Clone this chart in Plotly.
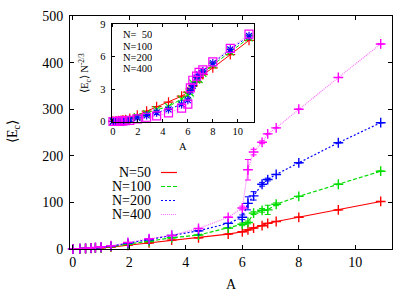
import plotly.graph_objects as go

# ---------------- data ----------------
A = [0, 0.25, 0.45, 0.65, 0.8, 1.0, 1.35, 1.95, 2.7, 3.5, 4.45, 5.5, 6.0, 6.2, 6.4, 6.7, 6.9, 7.2, 8.0, 9.4, 10.9]

E50 = [0, 0.5, 1, 1.5, 2, 2.5, 4, 8, 13, 19, 24, 32, 37, 41, 45, 50, 55, 59, 68, 84, 102]
E100 = [0, 0.6, 1.2, 1.8, 2.4, 3.2, 5, 10, 16, 24, 30, 45, 53, 57, 77, 83, 84, 96, 113, 139, 167]
E200 = [0, 0.7, 1.4, 2.1, 2.8, 3.8, 6, 12, 20, 29, 39, 55, 68, 98, 114, 139, 149, 160, 185, 228, 271]
E400 = [0, 0.8, 1.6, 2.4, 3.2, 4.4, 7, 14, 22, 29, 44, 68, 88, 170, 208, 229, 247, 260, 300, 368, 440]

ERR50 = [0] * 21
ERR100 = [0, 0, 0, 0, 0, 0, 0, 0, 0, 0, 0, 0, 3, 3, 3, 4, 10, 3, 0, 0, 0]
ERR200 = [0, 0, 0, 0, 0, 0, 0, 0, 0, 0, 0, 0, 5, 14, 9, 4, 3, 0, 0, 0, 0]
ERR400 = [0, 0, 0, 0, 0, 0, 0, 0, 0, 0, 0, 0, 4, 22, 6, 3, 0, 0, 0, 0, 0]

# inset: <E_c> N^(-2/3)
S50 = [0.05, 0.08, 0.1, 0.13, 0.16, 0.19, 0.3, 0.6, 0.98, 1.4, 1.8, 2.36, 2.73, 3.02, 3.3, 3.65, 4.05, 4.35, 4.97, 6.19, 7.52]
S100 = [0.03, 0.05, 0.07, 0.09, 0.12, 0.15, 0.23, 0.46, 0.74, 1.11, 1.39, 2.09, 2.46, 2.65, 3.57, 3.85, 3.9, 4.46, 5.25, 6.45, 7.75]
S200 = [0.02, 0.03, 0.05, 0.07, 0.09, 0.11, 0.18, 0.35, 0.58, 0.85, 1.14, 1.61, 1.99, 2.87, 3.33, 4.06, 4.36, 4.68, 5.41, 6.67, 7.92]
S400 = [0.02, 0.03, 0.04, 0.05, 0.07, 0.09, 0.13, 0.26, 0.41, 0.53, 0.81, 1.25, 1.62, 3.13, 3.83, 4.22, 4.55, 4.79, 5.53, 6.78, 8.1]

MAIN_NAMES = ["N=50", "N=100", "N=200", "N=400"]
INSET_NAMES = ["N=\u00a0 50", "N=100", "N=200", "N=400"]

X_TICKS = [0, 2, 4, 6, 8, 10]
Y_TICKS = [0, 100, 200, 300, 400, 500]
INSET_Y_TICKS = [0, 3, 6, 9]

# ---------------- styles ----------------
COLORS = ["#ff0000", "#00dd00", "#0000ff", "#ff00ff"]
LINE_COLORS = ["#ff0000", "#00dd00", "#0000ff", "rgba(255,0,255,0.55)"]
DASHES = ["solid", "4px,2px", "2px,2px", "1px,1px"]
INSET_SYMBOLS = ["cross-thin", "x-thin", "asterisk", "square-open"]
FONT = "Liberation Serif, Times New Roman, serif"

W, H = 415, 291
ML, MR, MT, MB = 70, 23, 16, 42
pw = W - ML - MR
ph = H - MT - MB


def px_x(p):
    return (p - ML) / pw


def px_y(p):
    return (H - MB - p) / ph


fig = go.Figure()

series = [E50, E100, E200, E400]
errs = [ERR50, ERR100, ERR200, ERR400]
for i in range(4):
    fig.add_trace(go.Scatter(
        x=A, y=series[i], mode="lines+markers",
        line=dict(color=LINE_COLORS[i], width=1.2, dash=DASHES[i]),
        marker=dict(symbol="cross-thin", size=7, color=COLORS[i],
                    line=dict(color=COLORS[i], width=1.4)),
        error_y=dict(type="data", array=errs[i], visible=True,
                     color=COLORS[i], thickness=1, width=3),
        showlegend=False, xaxis="x", yaxis="y", cliponaxis=False))

insets = [S50, S100, S200, S400]
for i in range(4):
    fig.add_trace(go.Scatter(
        x=A, y=insets[i], mode="lines+markers",
        line=dict(color=LINE_COLORS[i], width=1, dash=DASHES[i]),
        marker=dict(symbol=INSET_SYMBOLS[i], size=7 if i != 3 else 8,
                    color=COLORS[i], line=dict(color=COLORS[i], width=1.2)),
        showlegend=False, xaxis="x2", yaxis="y2", cliponaxis=False))

# ---------- legends (drawn on a pixel-space overlay axis) ----------
main_leg_y = [172.5, 186.5, 200.5, 214.5]
for i in range(4):
    fig.add_trace(go.Scatter(
        x=[161, 177], y=[main_leg_y[i], main_leg_y[i]], mode="lines",
        line=dict(color=LINE_COLORS[i], width=1.2, dash=DASHES[i]),
        showlegend=False, xaxis="x3", yaxis="y3", hoverinfo="skip"))
    fig.add_annotation(x=153, y=main_leg_y[i], xref="x3", yref="y3",
                       text=MAIN_NAMES[i], showarrow=False, xanchor="right",
                       yanchor="middle", height=13, valign="middle",
                       font=dict(family=FONT, size=14, color="black"))

inset_leg_y = [34.3, 45.6, 56.9, 68.2]
for i in range(4):
    fig.add_trace(go.Scatter(
        x=[157, 173], y=[inset_leg_y[i], inset_leg_y[i]], mode="lines",
        line=dict(color=LINE_COLORS[i], width=1, dash=DASHES[i]),
        showlegend=False, xaxis="x3", yaxis="y3", hoverinfo="skip"))
    fig.add_trace(go.Scatter(
        x=[165], y=[inset_leg_y[i]], mode="markers",
        marker=dict(symbol=INSET_SYMBOLS[i], size=7 if i != 3 else 8,
                    color=COLORS[i], line=dict(color=COLORS[i], width=1.2)),
        showlegend=False, xaxis="x3", yaxis="y3", hoverinfo="skip"))
    fig.add_annotation(x=120.5, y=inset_leg_y[i], xref="x3", yref="y3",
                       text=INSET_NAMES[i], showarrow=False, xanchor="left",
                       yanchor="middle", height=10, valign="middle",
                       font=dict(family=FONT, size=10.5, color="black"))

# ---------- axis titles ----------
fig.add_annotation(x=px_x(13), y=px_y(132), xref="paper", yref="paper",
                   text="\u27e8E<sub>c</sub>\u27e9", textangle=-90, showarrow=False,
                   xanchor="center", yanchor="middle",
                   font=dict(family=FONT, size=14, color="black"))
fig.add_annotation(x=px_x(231), y=px_y(284), xref="paper", yref="paper",
                   text="A", showarrow=False, xanchor="center", yanchor="middle",
                   font=dict(family=FONT, size=14, color="black"))
fig.add_annotation(x=px_x(85), y=px_y(73), xref="paper", yref="paper",
                   text="\u27e8E<sub>c</sub>\u27e9 N<sup>-2/3</sup>", textangle=-90,
                   showarrow=False, xanchor="center", yanchor="middle",
                   font=dict(family=FONT, size=10.5, color="black"))
fig.add_annotation(x=px_x(183), y=px_y(146), xref="paper", yref="paper",
                   text="A", showarrow=False, xanchor="center", yanchor="middle",
                   font=dict(family=FONT, size=10.5, color="black"))

ix0, ix1 = px_x(111.7), px_x(254)
iy0, iy1 = px_y(121.7), px_y(24.3)

axis_common = dict(showline=True, linecolor="black", linewidth=1, mirror="ticks",
                   ticks="inside", showgrid=False, zeroline=False,
                   tickcolor="black", automargin=False)

fig.update_layout(
    width=W, height=H,
    margin=dict(l=ML, r=MR, t=MT, b=MB, pad=0),
    paper_bgcolor="white", plot_bgcolor="white",
    font=dict(family=FONT, color="black"),
    xaxis=dict(**axis_common, range=[-0.1, 11.3], tickvals=X_TICKS, ticklen=4,
               tickfont=dict(size=14), domain=[0, 1]),
    yaxis=dict(**axis_common, range=[0, 500], tickvals=Y_TICKS, ticklen=4,
               tickfont=dict(size=14), ticklabelstandoff=3, domain=[0, 1]),
    xaxis2=dict(**axis_common, range=[-0.1, 11.3], tickvals=X_TICKS, ticklen=3,
                tickfont=dict(size=10.5), domain=[ix0, ix1], anchor="y2"),
    yaxis2=dict(**axis_common, range=[0, 9], tickvals=INSET_Y_TICKS, ticklen=3,
                tickfont=dict(size=10.5), ticklabelstandoff=3,
                domain=[iy0, iy1], anchor="x2"),
    xaxis3=dict(overlaying="x", range=[ML, W - MR], visible=False, fixedrange=True),
    yaxis3=dict(overlaying="y", range=[H - MB, MT], visible=False, fixedrange=True),
)

fig.write_html("out.html", config={"displayModeBar": False},
               post_script="document.body.style.margin='0';")
